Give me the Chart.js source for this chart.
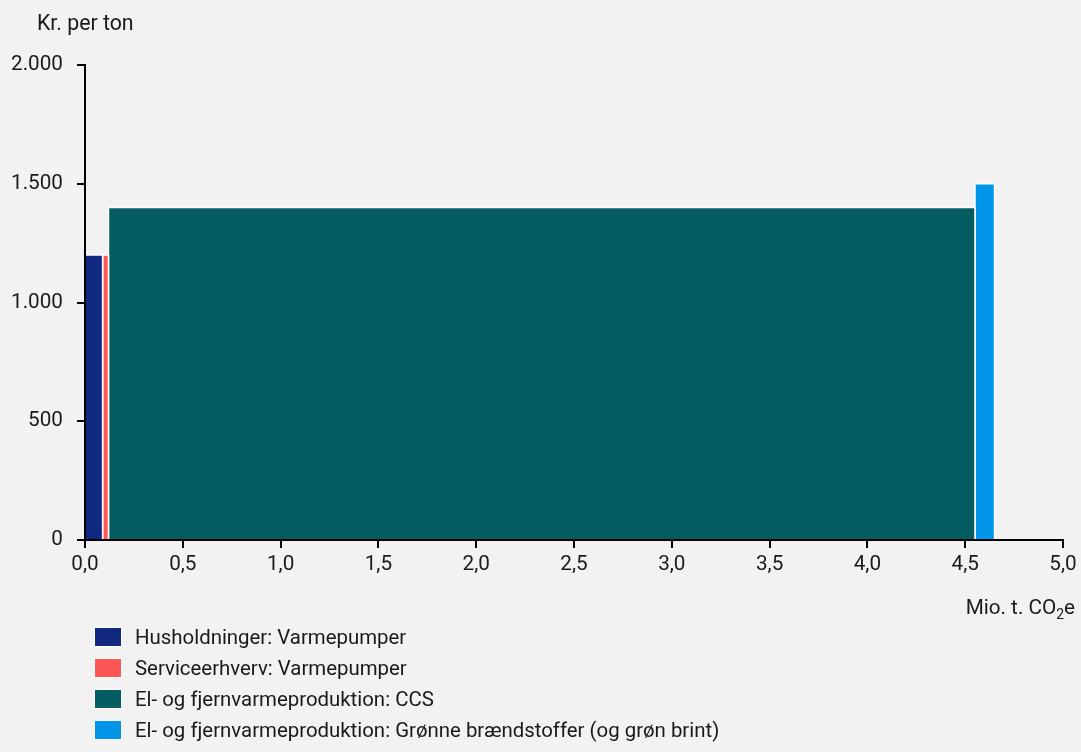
<!DOCTYPE html>
<html>
<head>
<meta charset="utf-8">
<script src="https://cdn.jsdelivr.net/npm/chart.js@4/dist/chart.umd.min.js"></script>
<style>
  html, body { margin: 0; padding: 0; background: #f2f2f2; }
  #wrap { position: relative; width: 1081px; height: 752px; background: #f2f2f2; font-family: Roboto, sans-serif; }
  #chartBox { position: absolute; left: 0; top: 0; width: 1081px; height: 622px; }
  #legend { position: absolute; left: 94px; top: 621px; }
  .item { display: flex; align-items: center; height: 31px; font-size: 20.4px; color: #1a1a1a; }
  .box { width: 28px; height: 20px; margin-right: 13px; border: 1.5px solid #fff; box-sizing: border-box; }
</style>
</head>
<body>
<div id="wrap">
  <div id="chartBox"><canvas id="graf"></canvas></div>
  <div id="legend"></div>
</div>
<script>
// tiltag langs x-aksen (mio. t. CO2e) og pris (kr. per ton)
const kategorier = [
  "Husholdninger: Varmepumper",
  "Serviceerhverv: Varmepumper",
  "El- og fjernvarmeproduktion: CCS",
  "El- og fjernvarmeproduktion: Grønne brændstoffer (og grøn brint)"
];
const reduktion = [0.09, 0.03, 4.43, 0.10];
const pris = [1200, 1200, 1400, 1500];
const farver = ["#10287f", "#fd5657", "#055c61", "#0095e8"];
const xTicks = [0, 0.5, 1, 1.5, 2, 2.5, 3, 3.5, 4, 4.5, 5];
const yTicks = [0, 500, 1000, 1500, 2000];

const fontFam = "Roboto, sans-serif";
const tekstFarve = "#1a1a1a";
const fs = 20.7;

function tusind(v) {
  return String(v).replace(/\B(?=(\d{3})+(?!\d))/g, ".");
}

// byg rektangler ud fra kumuleret reduktion
let start = 0;
const datasets = kategorier.map((navn, i) => {
  const x0 = start;
  const x1 = start + reduktion[i];
  start = x1;
  return {
    label: navn,
    data: [
      { x: x0, y: 0 },
      { x: x0, y: pris[i] },
      { x: x1, y: pris[i] },
      { x: x1, y: 0 }
    ],
    showLine: true,
    fill: "origin",
    backgroundColor: farver[i],
    borderColor: "#ffffff",
    borderWidth: 1.5,
    pointRadius: 0,
    tension: 0
  };
});

// aksetitler
const titler = {
  id: "titler",
  afterDraw(chart) {
    const c = chart.ctx;
    c.save();
    c.fillStyle = tekstFarve;
    c.textBaseline = "middle";
    c.font = "21.3px " + fontFam;
    c.textAlign = "left";
    c.fillText("Kr. per ton", 37, 25);
    // Mio. t. CO2e med sænket 2
    const x = chart.chartArea.right + 12;
    const y = 609;
    const del1 = "Mio. t. CO";
    const sub = "2";
    const del2 = "e";
    c.font = fs + "px " + fontFam;
    const w1 = c.measureText(del1).width;
    const w3 = c.measureText(del2).width;
    c.font = "14px " + fontFam;
    const w2 = c.measureText(sub).width;
    let sx = x - w1 - w2 - w3;
    c.font = fs + "px " + fontFam;
    c.fillText(del1, sx, y);
    c.font = "14px " + fontFam;
    c.fillText(sub, sx + w1, y + 6);
    c.font = fs + "px " + fontFam;
    c.fillText(del2, sx + w1 + w2, y);
    c.restore();
  }
};

const ctx = document.getElementById("graf").getContext("2d");
new Chart(ctx, {
  type: "scatter",
  data: { datasets },
  options: {
    responsive: true,
    maintainAspectRatio: false,
    animation: false,
    layout: { padding: { top: 65, right: 18, left: 0, bottom: 0 } },
    plugins: { legend: { display: false }, tooltip: { enabled: false } },
    scales: {
      x: {
        type: "linear",
        min: 0,
        max: 5,
        afterBuildTicks: (s) => { s.ticks = xTicks.map(v => ({ value: v })); },
        afterFit: (s) => { s.height = 82; },
        ticks: {
          color: tekstFarve,
          font: { family: fontFam, size: fs },
          padding: 4,
          maxRotation: 0,
          z: 1,
          callback: (v) => v.toFixed(1).replace(".", ",")
        },
        grid: { drawOnChartArea: false, drawTicks: true, tickLength: 8, color: "#000", lineWidth: 2, z: 1 },
        border: { display: true, color: "#000", width: 2, z: 1 }
      },
      y: {
        min: 0,
        max: 2000,
        afterBuildTicks: (s) => { s.ticks = yTicks.map(v => ({ value: v })); },
        afterFit: (s) => { s.width = 85; },
        ticks: {
          color: tekstFarve,
          font: { family: fontFam, size: fs },
          padding: 14,
          z: 1,
          callback: (v) => tusind(v)
        },
        grid: { drawOnChartArea: false, drawTicks: true, tickLength: 8, color: "#000", lineWidth: 2, z: 1 },
        border: { display: true, color: "#000", width: 2, z: 1 }
      }
    }
  },
  plugins: [titler]
});

// legende
const legendEl = document.getElementById("legend");
kategorier.forEach((navn, i) => {
  const row = document.createElement("div");
  row.className = "item";
  const box = document.createElement("span");
  box.className = "box";
  box.style.background = farver[i];
  const txt = document.createElement("span");
  txt.textContent = navn;
  row.appendChild(box);
  row.appendChild(txt);
  legendEl.appendChild(row);
});
</script>
</body>
</html>
